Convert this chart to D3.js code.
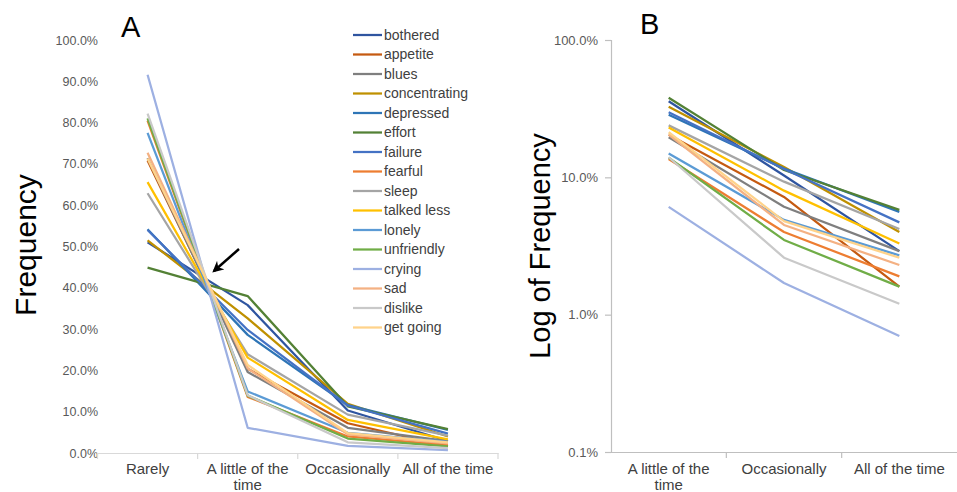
<!DOCTYPE html>
<html>
<head>
<meta charset="utf-8">
<script src="https://d3js.org/d3.v7.min.js"></script>
<style>
    body { margin: 0; background: #fff; }
    text { font-family: "Liberation Sans", Arial, sans-serif; }
</style>
</head>
<body>
<div id="chart"></div>
<script>
const categories = ['Rarely', 'A little of the time', 'Occasionally', 'All of the time'];
const symptoms = ['bothered', 'appetite', 'blues', 'concentrating', 'depressed', 'effort',
    'failure', 'fearful', 'sleep', 'talked less', 'lonely', 'unfriendly',
    'crying', 'sad', 'dislike', 'get going'];
// fraction of answers per category, same order as symptoms
const rarely =     [0.510, 0.708, 0.714, 0.515, 0.542, 0.449, 0.540, 0.805, 0.629, 0.656, 0.775, 0.810, 0.916, 0.727, 0.822, 0.713];
const aLittle =    [0.358, 0.204, 0.196, 0.326, 0.286, 0.380, 0.298, 0.136, 0.239, 0.231, 0.149, 0.139, 0.061, 0.205, 0.140, 0.213];
const occasional = [0.103, 0.072, 0.061, 0.119, 0.116, 0.113, 0.115, 0.040, 0.093, 0.080, 0.049, 0.035, 0.017, 0.045, 0.026, 0.048];
const allTime =    [0.029, 0.016, 0.029, 0.040, 0.056, 0.058, 0.047, 0.019, 0.042, 0.033, 0.027, 0.016, 0.007, 0.023, 0.012, 0.026];
const colors = ['#2F55A0', '#C55A11', '#7F7F7F', '#BF9000', '#2E75B6', '#538135',
    '#4472C4', '#ED7D31', '#A5A5A5', '#FFC000', '#5B9BD5', '#70AD47',
    '#9DB0E2', '#F4B183', '#C9C9C9', '#FFD38A'];
const linearTicks = [0, 0.1, 0.2, 0.3, 0.4, 0.5, 0.6, 0.7, 0.8, 0.9, 1];
const logTicks = [0.001, 0.01, 0.1, 1];

const series = symptoms.map((name, i) => ({
    name,
    color: colors[i],
    values: [rarely[i], aLittle[i], occasional[i], allTime[i]]
}));

const width = 957, height = 492;
const fmt = d3.format('.1%');
const svg = d3.select('#chart').append('svg')
    .attr('width', width)
    .attr('height', height);

svg.append('defs').append('marker')
    .attr('id', 'head')
    .attr('viewBox', '0 0 10 10')
    .attr('refX', 8).attr('refY', 5)
    .attr('markerWidth', 4.5).attr('markerHeight', 4.5)
    .attr('orient', 'auto')
    .append('path')
    .attr('d', 'M0,0 L10,5 L0,10 L3,5 Z')
    .attr('fill', '#000');

// category labels, wrapped like Excel does
function categoryLabels(g, x, y0) {
    g.selectAll('.cat')
        .data(x.domain())
        .join('text')
        .attr('class', 'cat')
        .attr('text-anchor', 'middle')
        .attr('font-size', 15)
        .attr('fill', '#404040')
        .each(function (d) {
            const t = d3.select(this);
            const lines = d === 'A little of the time' ? ['A little of the', 'time'] : [d];
            lines.forEach((l, k) => {
                t.append('tspan')
                    .attr('x', x(d) + x.bandwidth() / 2)
                    .attr('y', y0 + k * 16)
                    .text(l);
            });
        });
}

function drawLines(g, x, y, idx) {
    const line = d3.line()
        .x(d => x(d.cat) + x.bandwidth() / 2)
        .y(d => y(d.v));
    g.selectAll('.series')
        .data(series)
        .join('path')
        .attr('class', 'series')
        .attr('fill', 'none')
        .attr('stroke', d => d.color)
        .attr('stroke-width', 2.25)
        .attr('stroke-linejoin', 'round')
        .attr('d', d => line(idx.map(k => ({cat: categories[k], v: d.values[k]}))));
}

/**
 * Panel A: linear frequency.
 */
function panelA() {
    const x = d3.scaleBand().domain(categories).range([97.5, 498]);
    const y = d3.scaleLinear().domain([0, 1]).range([453, 40]);
    const g = svg.append('g');

    const yAxis = g.append('g')
        .attr('transform', 'translate(98,0)')
        .call(d3.axisLeft(y).tickValues(linearTicks).tickFormat(fmt).tickSize(0).tickPadding(0));
    yAxis.select('.domain').remove();
    yAxis.selectAll('text').attr('font-size', 12.5).attr('fill', '#595959')
        .attr('font-family', '"Liberation Sans", Arial, sans-serif');

    const xAxis = g.append('g')
        .attr('transform', 'translate(0,453)')
        .call(d3.axisBottom(x).tickSize(0).tickFormat(''));
    xAxis.select('.domain').attr('stroke', '#D9D9D9').attr('stroke-width', 1.2);
    xAxis.selectAll('.tick').remove();
    g.selectAll('.xt')
        .data(d3.range(categories.length + 1))
        .join('line')
        .attr('x1', i => x.range()[0] + i * x.bandwidth())
        .attr('x2', i => x.range()[0] + i * x.bandwidth())
        .attr('y1', 453).attr('y2', 459)
        .attr('stroke', '#D9D9D9').attr('stroke-width', 1.2);

    categoryLabels(g, x, 474);
    drawLines(g, x, y, [0, 1, 2, 3]);

    g.append('text')
        .attr('transform', 'translate(36,245) rotate(-90)')
        .attr('text-anchor', 'middle')
        .attr('font-size', 30)
        .text('Frequency');
    g.append('text')
        .attr('x', 121).attr('y', 37)
        .attr('font-size', 29)
        .text('A');

    // arrow at the crossing point
    g.append('line')
        .attr('x1', 239).attr('y1', 249)
        .attr('x2', 214).attr('y2', 271)
        .attr('stroke', '#000')
        .attr('stroke-width', 2.5)
        .attr('marker-end', 'url(#head)');

    // legend
    const leg = g.append('g').attr('transform', 'translate(353,35)');
    const rows = leg.selectAll('g')
        .data(series)
        .join('g')
        .attr('transform', (d, i) => `translate(0,${i * 19.5})`);
    rows.append('line')
        .attr('x1', 0).attr('x2', 29)
        .attr('stroke', d => d.color)
        .attr('stroke-width', 2.25);
    rows.append('text')
        .attr('x', 31).attr('dy', '0.35em')
        .attr('font-size', 14)
        .attr('fill', '#404040')
        .text(d => d.name);
}

/**
 * Panel B: log of frequency, without "Rarely".
 */
function panelB() {
    const cats = categories.slice(1);
    const x = d3.scaleBand().domain(cats).range([611, 957]);
    const y = d3.scaleLog().domain([0.001, 1]).range([452, 40]);
    const g = svg.append('g');

    const yAxis = g.append('g')
        .attr('transform', 'translate(611,0)')
        .call(d3.axisLeft(y).tickValues(logTicks).tickFormat(fmt).tickSizeOuter(0).tickSize(6).tickPadding(7));
    yAxis.select('.domain').attr('stroke', '#BFBFBF').attr('stroke-width', 1.2);
    yAxis.selectAll('line').attr('stroke', '#BFBFBF').attr('stroke-width', 1.2);
    yAxis.selectAll('text').attr('font-size', 13).attr('fill', '#595959')
        .attr('font-family', '"Liberation Sans", Arial, sans-serif');

    const xAxis = g.append('g')
        .attr('transform', 'translate(0,452)')
        .call(d3.axisBottom(x).tickSize(0).tickFormat(''));
    xAxis.select('.domain').attr('stroke', '#BFBFBF').attr('stroke-width', 1.2);
    xAxis.selectAll('.tick').remove();
    g.selectAll('.xt')
        .data(d3.range(1, cats.length))
        .join('line')
        .attr('x1', i => x.range()[0] + i * x.bandwidth())
        .attr('x2', i => x.range()[0] + i * x.bandwidth())
        .attr('y1', 452).attr('y2', 458)
        .attr('stroke', '#BFBFBF').attr('stroke-width', 1.2);

    categoryLabels(g, x, 474);
    drawLines(g, x, y, [1, 2, 3]);

    g.append('text')
        .attr('transform', 'translate(550,246) rotate(-90)')
        .attr('text-anchor', 'middle')
        .attr('font-size', 29)
        .text('Log of Frequency');
    g.append('text')
        .attr('x', 640).attr('y', 34)
        .attr('font-size', 29)
        .text('B');
}

panelA();
panelB();
</script>
</body>
</html>
